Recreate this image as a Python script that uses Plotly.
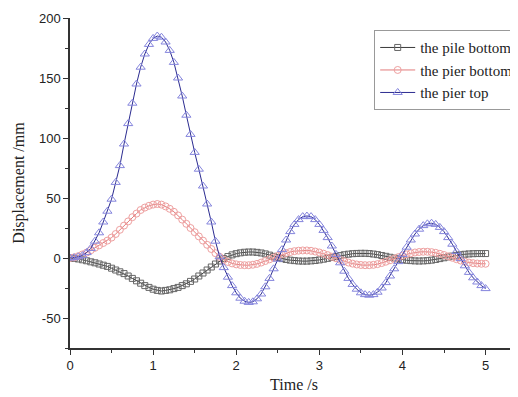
import plotly.graph_objects as go

time_s = [round(i * 0.05, 2) for i in range(101)]

pile_bottom = [
    0, -0.3, -0.8, -1.5, -2.3, -3.2, -4, -5, -6, -7,
    -8.5, -10, -11.5, -13, -15, -17, -19, -21, -23, -24.5,
    -26, -27, -27.5, -27, -26.5, -25.5, -24.5, -23, -21.5, -19.5,
    -17.5, -15, -12.5, -10, -7.5, -5, -2.5, -0.5, 1.2, 2.6,
    3.6, 4.3, 4.8, 5, 5, 4.7, 4.2, 3.4, 2.4, 1.4,
    0.4, -0.5, -1.2, -1.8, -2.2, -2.5, -2.6, -2.6, -2.4, -2.1,
    -1.6, -1, -0.3, 0.5, 1.3, 2, 2.7, 3.2, 3.6, 3.8,
    3.9, 3.9, 3.7, 3.3, 2.8, 2.1, 1.4, 0.6, -0.1, -0.8,
    -1.4, -1.9, -2.2, -2.4, -2.5, -2.4, -2.2, -1.8, -1.2, -0.5,
    0.2, 0.9, 1.6, 2.2, 2.7, 3.1, 3.4, 3.6, 3.7, 3.7,
    3.7,
]

pier_bottom = [
    0, 0.5, 1.5, 3, 4.5, 6.5, 8.5, 10.5, 12.5, 14.5,
    17, 20, 23.5, 27, 30.5, 34, 37, 40, 42, 43.5,
    44.5, 45, 44.5, 43, 41, 38.5, 35.5, 32, 28.5, 25,
    21.5, 18, 14.5, 11, 7.5, 4, 1, -1.5, -3.3, -4.5,
    -5.3, -5.8, -6, -6, -5.6, -4.9, -3.8, -2.5, -1.1, 0.3,
    1.7, 3, 4.1, 5, 5.7, 6.1, 6.3, 6.3, 6, 5.4,
    4.6, 3.6, 2.4, 1.1, -0.2, -1.5, -2.7, -3.8, -4.7, -5.4,
    -5.8, -6, -6, -5.7, -5.1, -4.2, -3.1, -1.9, -0.6, 0.7,
    1.9, 3, 3.9, 4.6, 5, 5.2, 5.2, 4.9, 4.3, 3.5,
    2.5, 1.4, 0.2, -1, -2.1, -3, -3.8, -4.3, -4.6, -4.8,
    -4.8,
]

pier_top = [
    0, 0.3, 1, 2, 4.5, 8, 14, 21, 30, 39,
    49, 63, 77, 95, 112, 129, 145, 159, 170, 178,
    183, 185, 184, 180, 173, 163, 150, 135, 119, 103,
    88, 74, 60, 45, 30, 14, 1, -8, -16, -23,
    -29, -33.5, -36, -37, -36.5, -34, -30, -24, -17, -9,
    -1, 7, 15, 22, 28, 32, 34.5, 35, 34.5, 32,
    28, 23, 17, 10, 3, -4, -11, -17, -22, -26,
    -29, -30.5, -31, -30.5, -28.5, -25, -20.5, -15, -9, -3,
    3, 9, 15, 20, 24, 27, 28.5, 29, 28, 25.5,
    22, 17, 11.5, 5.5, -0.5, -6.5, -12, -16.5, -20, -23,
    -25.5,
]

series_names = ["the pile bottom", "the pier bottom", "the pier top"]
y_tick_vals = [-50, 0, 50, 100, 150, 200]
y_tick_text = ["-50", "0", "50", "100", "150", "200"]
x_tick_vals = [0, 1, 2, 3, 4, 5]
x_tick_text = ["0", "1", "2", "3", "4", "5"]

fig = go.Figure()
fig.add_trace(go.Scatter(
    x=time_s, y=pile_bottom, name=series_names[0], mode="lines+markers",
    line=dict(color="#3a3a3a", width=1),
    marker=dict(symbol="square-open", size=6, color="#666666", line=dict(width=1)),
))
fig.add_trace(go.Scatter(
    x=time_s, y=pier_bottom, name=series_names[1], mode="lines+markers",
    line=dict(color="#e27b7b", width=1),
    marker=dict(symbol="circle-open", size=7, color="#eea0a0", line=dict(width=1)),
))
fig.add_trace(go.Scatter(
    x=time_s, y=pier_top, name=series_names[2], mode="lines+markers",
    line=dict(color="#2b2b90", width=1),
    marker=dict(symbol="triangle-up-open", size=8, color="#8585dd", line=dict(width=1)),
))

axis_common = dict(
    showgrid=False, zeroline=False, showline=True, linecolor="#333333", linewidth=1.5,
    ticks="outside", ticklen=5, tickwidth=1.3, tickcolor="#333333",
    tickfont=dict(family="Liberation Sans, Arial, sans-serif", size=13, color="#222222"),
    mirror=False,
)

# The page body has an 8px default margin, so the figure is 8px smaller
fig.update_layout(
    width=510, height=389,
    margin=dict(l=62, r=0, t=10, b=49, autoexpand=False),
    paper_bgcolor="white", plot_bgcolor="white",
    xaxis=dict(
        range=[0, 5.39], tickvals=x_tick_vals, ticktext=x_tick_text,
        minor=dict(dtick=0.5, ticks="outside", ticklen=3, tickcolor="#333333", showgrid=False),
        title=dict(text="Time /s", font=dict(family="Liberation Serif, Times New Roman, serif", size=16, color="#222222"), standoff=6),
        **axis_common,
    ),
    yaxis=dict(
        range=[-75, 200], tickvals=y_tick_vals, ticktext=y_tick_text,
        minor=dict(dtick=25, tick0=0, ticks="outside", ticklen=3, tickcolor="#333333", showgrid=False),
        title=dict(text="Displacement /mm", font=dict(family="Liberation Serif, Times New Roman, serif", size=16, color="#222222"), standoff=10),
        **axis_common,
    ),
    legend=dict(
        x=0.679, y=0.963, xanchor="left", yanchor="top",
        bordercolor="#999999", borderwidth=1, bgcolor="white",
        font=dict(family="Liberation Serif, Times New Roman, serif", size=15, color="#222222"),
        itemwidth=35, tracegroupgap=0,
    ),
    showlegend=True,
)

fig.write_html("out.html")
